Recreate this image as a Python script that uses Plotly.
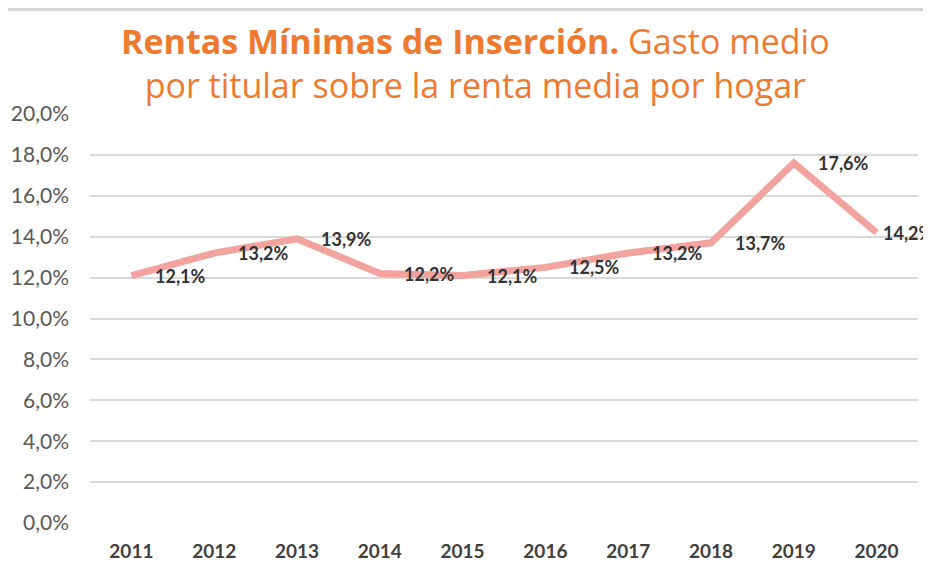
import plotly.graph_objects as go

years = [2011, 2012, 2013, 2014, 2015, 2016, 2017, 2018, 2019, 2020]
year_labels = ["2011", "2012", "2013", "2014", "2015", "2016", "2017", "2018", "2019", "2020"]
values = [12.1, 13.2, 13.9, 12.2, 12.1, 12.5, 13.2, 13.7, 17.6, 14.2]
labels = ["12,1%", "13,2%", "13,9%", "12,2%", "12,1%", "12,5%", "13,2%", "13,7%", "17,6%", "14,2%"]
y_ticks = [0, 2, 4, 6, 8, 10, 12, 14, 16, 18, 20]
y_ticktext = ["0,0%", "2,0%", "4,0%", "6,0%", "8,0%", "10,0%", "12,0%", "14,0%", "16,0%", "18,0%", "20,0%"]

fig = go.Figure()
fig.add_trace(go.Scatter(
    x=years, y=values, mode="lines",
    line=dict(color="#F2A3A0", width=7),
    hoverinfo="skip", showlegend=False,
))

n = len(years)
for i, (yr, v, lab) in enumerate(zip(years, values, labels)):
    fig.add_annotation(
        x=yr, y=v, text="<b>" + lab + "</b>", showarrow=False,
        xanchor="left", yanchor="middle", xshift=(4 if i == n - 1 else 22),
        font=dict(family="Lato", size=18, color="#333333"),
    )

fig.add_annotation(
    xref="paper", yref="paper", x=0.465, y=1.0, yshift=4,
    xanchor="center", yanchor="bottom", showarrow=False,
    text="<b>Rentas Mínimas de Inserción.</b> Gasto medio<br>por titular sobre la renta media por hogar",
    font=dict(family="Open Sans", size=34, color="#EE7A30"),
    align="center",
)

fig.add_shape(type="line", xref="paper", yref="paper", x0=-0.15, x1=1.1, y0=1.2555, y1=1.2555,
              line=dict(color="#D5D5D5", width=3))

fig.update_layout(
    width=923, height=564,
    margin=dict(l=82, r=13, t=106, b=49, autoexpand=False),
    paper_bgcolor="white", plot_bgcolor="white",
    xaxis=dict(
        range=[2010.5, 2020.5], tickvals=years, ticktext=year_labels,
        showgrid=False, zeroline=False, showline=False,
        tickfont=dict(family="Lato", size=19, color="#404040", weight="bold"),
        ticklabelstandoff=15,
    ),
    yaxis=dict(
        range=[0, 20], tickvals=y_ticks, ticktext=y_ticktext,
        showgrid=True, gridcolor="#D9D9D9", gridwidth=1.5, zeroline=False, showline=False,
        tickfont=dict(family="Lato", size=21, color="#595959"), ticklabelstandoff=20,
    ),
)

fig.write_html("out.html")
